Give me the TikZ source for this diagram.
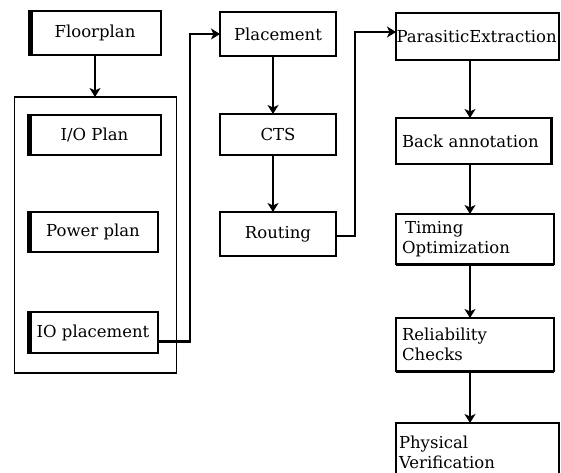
\documentclass[tikz,border=0pt]{standalone}
\usepackage{fontspec}
\setmainfont{DejaVu Serif}
\usetikzlibrary{arrows.meta}
\begin{document}
\begin{tikzpicture}[x=1pt,y=1pt,
  box/.style={draw, line width=2.6pt, inner sep=0pt, outer sep=0pt,
    font=\fontsize{16.5}{20.5}\selectfont, align=center},
  lbox/.style={box, align=left},
  grpbox/.style={draw, line width=1.3pt, inner sep=0pt, outer sep=0pt},
  thickedge/.style={line width=5pt},
  arr/.style={line width=2.8pt, -{Stealth[length=9pt,width=11pt,inset=2.5pt]}},
]
\useasboundingbox (0,0) rectangle (561,472);
\clip (0,0) rectangle (561,472);

% left column
\node[grpbox, minimum width=162pt, minimum height=276pt] (grp) at (95.5,237) {};
\node[box, minimum width=132pt, minimum height=44pt] (fp) at (95,439) {Floorplan};
\node[box, minimum width=133pt, minimum height=40pt] (io) at (94.5,337) {I/O Plan};
\node[box, minimum width=130pt, minimum height=40pt] (pw) at (93,240) {Power plan};
\node[box, minimum width=130pt, minimum height=41pt] (iop) at (93,139.5) {IO placement};
\foreach \n in {fp,io,pw,iop}{
  \draw[thickedge] ([xshift=1.8pt,yshift=1pt]\n.north west) -- ([xshift=1.8pt,yshift=-1pt]\n.south west);
}

% middle column
\node[box, minimum width=116pt, minimum height=44pt] (pl) at (278,438) {Placement};
\node[box, minimum width=116pt, minimum height=41pt] (cts) at (278,337.5) {CTS};
\node[box, minimum width=116pt, minimum height=44pt] (rt) at (278,238) {Routing};

% right column
\node[lbox, minimum width=163pt, minimum height=47pt, text width=162pt] (pe) at (477.5,435.5) {ParasiticExtraction};
\node[lbox, minimum width=155pt, minimum height=46pt, text width=143pt] (ba) at (473.5,331) {Back annotation};
\node[lbox, minimum width=158pt, minimum height=50pt, text width=146pt] (to) at (475,233) {\hspace*{3pt}Timing\\Optimization};
\node[lbox, minimum width=158pt, minimum height=53pt, text width=146pt] (rc) at (475,127.5) {Reliability\\Checks};
\node[lbox, minimum width=163pt, minimum height=59pt, text width=157pt] (pv) at (477.5,19.5) {Physical\\Verification};
\draw[line width=2pt] ([xshift=1pt,yshift=1pt]ba.north east) -- ([xshift=1pt,yshift=-1pt]ba.south east);
\draw[line width=2pt] ([yshift=-1pt]to.south west) -- ([yshift=-1pt]to.south east);
\draw[line width=2pt] ([yshift=-1pt]rc.south west) -- ([yshift=-1pt]rc.south east);

% connectors
\coordinate (lx) at (95,0);
\coordinate (mx) at (273,0);
\coordinate (rx) at (470,0);
\coordinate (j1) at (190,438);
\coordinate (j2) at (355,440);

\draw[arr] (fp.south -| lx) -- (grp.north -| lx);
\draw[arr] ([yshift=-9pt]iop.east) -| (j1) -- (pl.west);
\draw[arr] (pl.south -| mx) -- (cts.north -| mx);
\draw[arr] (cts.south -| mx) -- (rt.north -| mx);
\draw[arr] ([yshift=-2pt]rt.east) -| (j2) -- (j2 -| pe.west);
\draw[arr] (pe.south -| rx) -- (ba.north -| rx);
\draw[arr] (ba.south -| rx) -- (to.north -| rx);
\draw[arr] (to.south -| rx) -- (rc.north -| rx);
\draw[arr] (rc.south -| rx) -- (pv.north -| rx);
\end{tikzpicture}
\end{document}
